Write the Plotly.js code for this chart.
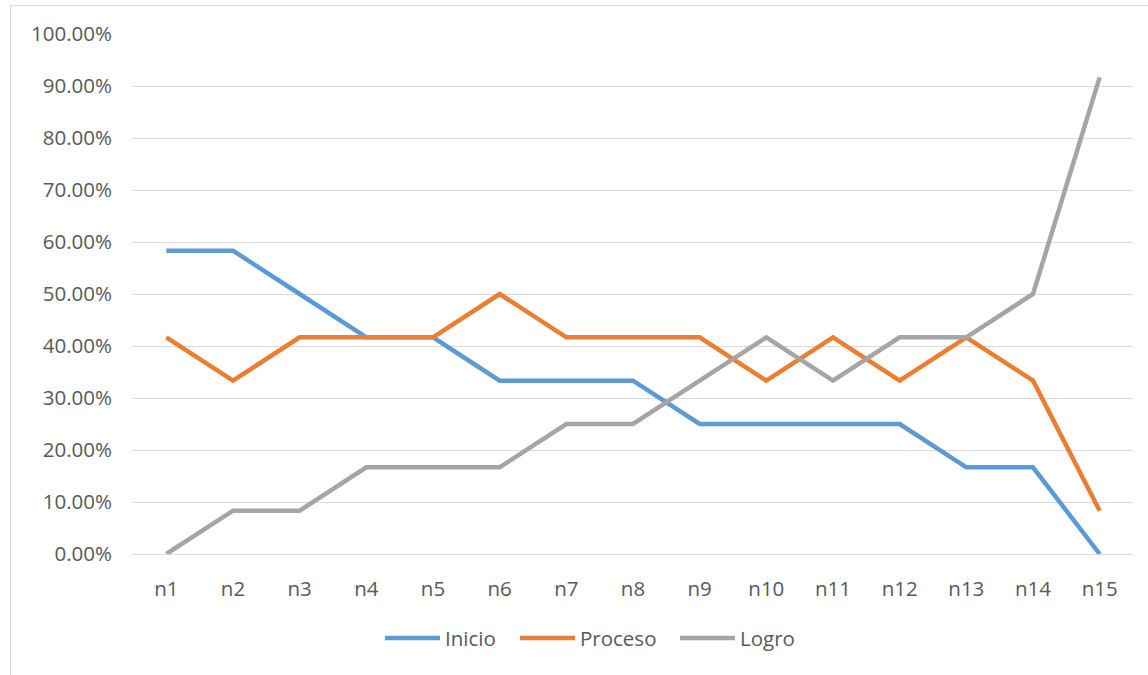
<!DOCTYPE html>
<html>
<head>
<meta charset="utf-8">
<script src="https://cdn.plot.ly/plotly-3.0.1.min.js"></script>
<style>
  html, body { margin: 0; padding: 0; background: #fff; overflow: hidden; }
  #frame { position: absolute; left: 10px; top: 5px; width: 1200px; height: 720px; border: 1px solid #d9d9d9; box-sizing: border-box; }
  #chart { position: absolute; left: 0; top: 0; width: 1148px; height: 675px; }
</style>
</head>
<body>
<div id="frame"></div>
<div id="chart"></div>
<script>
const categories = ["n1","n2","n3","n4","n5","n6","n7","n8","n9","n10","n11","n12","n13","n14","n15"];
const inicio  = [58.33, 58.33, 50.00, 41.67, 41.67, 33.33, 33.33, 33.33, 25.00, 25.00, 25.00, 25.00, 16.67, 16.67, 0.00];
const proceso = [41.67, 33.33, 41.67, 41.67, 41.67, 50.00, 41.67, 41.67, 41.67, 33.33, 41.67, 33.33, 41.67, 33.33, 8.33];
const logro   = [0.00, 8.33, 8.33, 16.67, 16.67, 16.67, 25.00, 25.00, 33.33, 41.67, 33.33, 41.67, 41.67, 50.00, 91.67];
const seriesNames = ["Inicio", "Proceso", "Logro"];
const yTicks = [0,10,20,30,40,50,60,70,80,90,100];
const yTickText = yTicks.map(v => v.toFixed(2) + "%");

const colors = ["#5B9BD5", "#ED7D31", "#A5A5A5"];
const data = [inicio, proceso, logro].map((vals, i) => ({
  type: "scatter",
  mode: "lines",
  name: seriesNames[i],
  x: categories,
  y: vals,
  line: { color: colors[i], width: 4.5, shape: "linear" },
  hoverinfo: "skip",
  showlegend: false
}));

const font = { family: "Open Sans, Liberation Sans, sans-serif", size: 20.5, color: "#595959" };

// custom legend (Excel style: long line swatch, text right after)
const plotLeft = 133, plotWidth = 1000;
const legendStartPx = [385, 520, 680];
const swatchLen = 55;
const legendY = -0.1615;
const shapes = [];
const annotations = [];
seriesNames.forEach((name, i) => {
  const x0 = (legendStartPx[i] - plotLeft) / plotWidth;
  const x1 = (legendStartPx[i] + swatchLen - plotLeft) / plotWidth;
  shapes.push({
    type: "line", xref: "paper", yref: "paper",
    x0: x0, x1: x1, y0: legendY, y1: legendY,
    line: { color: colors[i], width: 4.5 }
  });
  annotations.push({
    xref: "paper", yref: "paper",
    x: x1 + 3 / plotWidth, y: legendY,
    xanchor: "left", yanchor: "middle",
    text: name, showarrow: false, font: font
  });
});

const layout = {
  width: 1148,
  height: 675,
  paper_bgcolor: "rgba(0,0,0,0)",
  plot_bgcolor: "rgba(0,0,0,0)",
  margin: { l: 133, r: 15, t: 34, b: 121 },
  font: font,
  showlegend: false,
  hovermode: false,
  shapes: shapes,
  annotations: annotations,
  xaxis: {
    type: "category",
    range: [-0.5, 14.5],
    showgrid: false,
    zeroline: false,
    showline: true,
    linecolor: "#d9d9d9",
    linewidth: 1,
    ticks: "",
    ticklabelstandoff: 16,
    tickfont: font,
    fixedrange: true
  },
  yaxis: {
    range: [0, 100],
    tickvals: yTicks,
    ticktext: yTickText,
    showgrid: true,
    gridcolor: "#d9d9d9",
    gridwidth: 1,
    zeroline: false,
    showline: false,
    ticks: "",
    ticklabelstandoff: 20,
    tickfont: font,
    fixedrange: true
  }
};

Plotly.newPlot("chart", data, layout, { staticPlot: true, displayModeBar: false });
</script>
</body>
</html>
